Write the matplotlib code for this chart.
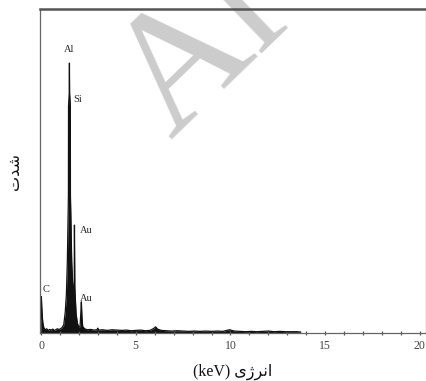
import matplotlib
matplotlib.use("Agg")
import matplotlib.pyplot as plt
from matplotlib.ticker import MultipleLocator

# EDS spectrum, energy in keV, intensity in arbitrary units (axis top = 100)
energy = [0.00, 0.02, 0.04, 0.07, 0.10, 0.15, 0.22, 0.30, 0.38, 0.46, 0.54,
          0.62, 0.70, 0.78, 0.86, 0.94, 1.00, 1.10, 1.20, 1.28, 1.34, 1.39,
          1.447, 1.452, 1.49, 1.50, 1.51, 1.548, 1.553, 1.62, 1.68, 1.72,
          1.755, 1.765, 1.785, 1.85, 1.92, 2.00, 2.06, 2.10, 2.13, 2.16,
          2.20, 2.30, 2.45, 2.60, 2.80, 2.95, 3.00, 3.05, 3.25, 3.50, 3.75,
          4.00, 4.25, 4.50, 4.75, 5.00, 5.25, 5.50, 5.75, 5.95, 6.05, 6.15,
          6.35, 6.60, 6.90, 7.20, 7.50, 7.80, 8.10, 8.40, 8.70, 9.00, 9.30,
          9.60, 9.80, 9.95, 10.2, 10.5, 10.8, 11.1, 11.4, 11.7, 12.0, 12.3,
          12.6, 12.9, 13.2, 13.5, 13.7]
intensity = [0.0, 11.2, 8.0, 5.0, 3.0, 1.6, 1.0, 1.3, 0.8, 1.1, 0.9,
             1.2, 0.8, 1.0, 1.3, 1.1, 1.2, 1.6, 2.5, 6.5, 12.0, 22.0,
             42.6, 70.0, 74.0, 83.3, 74.0, 70.0, 42.6, 22.0, 14.0, 11.7,
             16.0, 33.3, 14.0, 6.0, 3.0, 1.8, 2.0, 6.0, 9.6, 5.0,
             2.0, 1.3, 1.0, 1.1, 0.9, 1.0, 1.5, 0.9, 1.0, 0.8, 1.0,
             0.9, 0.8, 0.9, 0.7, 0.8, 0.9, 0.7, 0.8, 1.4, 1.9, 1.2,
             0.8, 0.7, 0.6, 0.7, 0.6, 0.5, 0.6, 0.5, 0.6, 0.5, 0.6,
             0.5, 0.8, 1.0, 0.6, 0.5, 0.4, 0.5, 0.4, 0.5, 0.6, 0.4,
             0.5, 0.4, 0.4, 0.4, 0.3]

# peak annotations
peak_labels = ["Al", "Si", "Au", "C", "Au"]
label_x = [1.48, 1.95, 2.37, 0.26, 2.37]
label_y = [87.5, 72.0, 31.5, 13.3, 10.8]

serif = ["Liberation Serif", "DejaVu Sans"]

fig = plt.figure(figsize=(4.27, 3.81), dpi=100)
ax = fig.add_axes([40 / 427, 48 / 381, 386 / 427, 324 / 381])
ax.set_facecolor("none")

ax.fill_between(energy, intensity, 0, color="#111111", lw=0)
ax.plot(energy, intensity, color="#111111", lw=0.9)

for lab, lx, ly in zip(peak_labels, label_x, label_y):
    ax.text(lx, ly, lab, ha="center", va="center", fontsize=7.5,
            family=serif, color="#2a2a2a")

ax.set_xlim(-0.053, 20.32)
ax.set_ylim(0, 100)
ax.xaxis.set_major_locator(MultipleLocator(5))
ax.xaxis.set_minor_locator(MultipleLocator(1))
ax.set_yticks([])
ax.tick_params(axis="x", which="both", direction="inout", length=3.5,
               width=0.9, color="#555555", labelsize=8.5, labelcolor="#444444",
               pad=3)
for t in ax.get_xticklabels():
    t.set_family(serif)

for side in ["left", "right", "bottom"]:
    ax.spines[side].set_color("#666666")
    ax.spines[side].set_linewidth(0.9)
ax.spines["top"].set_color("#555555")
ax.spines["top"].set_linewidth(1.8)

# Persian axis titles, glyphs given in presentation forms (visual order)
xlabel_fa = "\uFBFC\uFB8A\uFEAE\uFEE7\u0627"  # انرژی
ylabel_fa = "\uFE95\uFEAA\uFEB7"              # شدت
ax.set_xlabel("(keV) " + xlabel_fa, fontsize=11.5, family=serif,
              color="#111111", labelpad=9)
ax.set_ylabel(ylabel_fa, fontsize=11.5, family=serif, color="#111111",
              labelpad=12)

# faint diagonal watermark behind the plot
fig.text(172 / 427, 1 - 141 / 381, "Archive of SID", fontsize=122,
         family=serif, color="#cccccc", rotation=44, rotation_mode="anchor",
         ha="left", va="baseline", zorder=-1)

fig.savefig("out.png", dpi=100)
